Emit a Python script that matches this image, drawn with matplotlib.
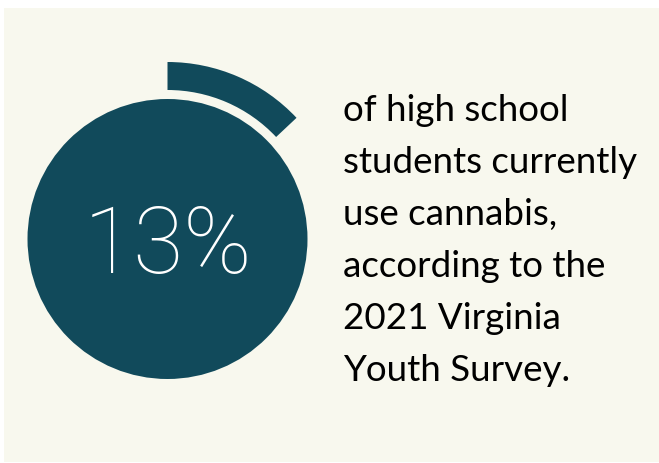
import matplotlib.pyplot as plt
from matplotlib.patches import Circle, Wedge, Rectangle

# data
share_pct = 13
label_lines = ["of high school", "students currently", "use cannabis,",
               "according to the", "2021 Virginia", "Youth Survey."]

teal = "#114a5b"
cream = "#f8f8ee"

W, H = 659, 463
fig = plt.figure(figsize=(W / 100, H / 100), dpi=100)
ax = fig.add_axes([0, 0, 1, 1])
ax.set_xlim(0, W)
ax.set_ylim(0, H)
ax.axis("off")

# panel
ax.add_patch(Rectangle((4, 1), W - 4, H - 9, color=cream, lw=0))

# big dot + progress arc (clockwise from 12 o'clock)
cx, cy = 167.5, H - 239
ax.add_patch(Circle((cx, cy), 140, color=teal, lw=0))
sweep = 360 * share_pct / 100
ax.add_patch(Wedge((cx, cy), 177, 90 - sweep, 90, width=28, color=teal, lw=0))

ax.text(cx, H - 273, f"{share_pct}%", ha="center", va="baseline",
        color="white", fontsize=66, family="Roboto", weight="light")

# caption
for i, line in enumerate(label_lines):
    ax.text(343, H - (121 + i * 52), line, ha="left", va="baseline",
            color="black", fontsize=26.5, family="Lato")

plt.savefig("out.png", dpi=100)
